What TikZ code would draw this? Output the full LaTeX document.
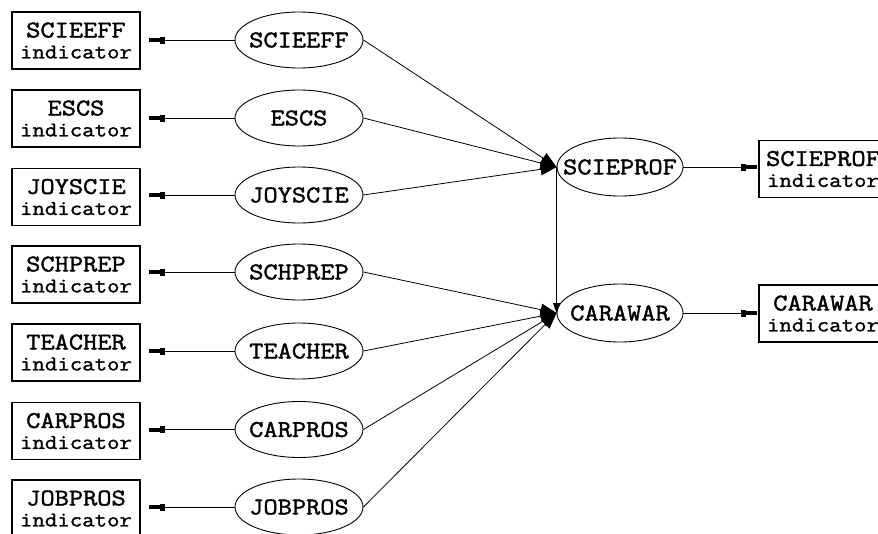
\documentclass[tikz,border=0pt]{standalone}
\usepackage{fontspec}
\newfontfamily\namefont{Latin Modern Mono}[FakeStretch=1.15,FakeBold=1.6]
\newfontfamily\indfont{Latin Modern Mono}[FakeStretch=1.15,FakeBold=1.3]
\usetikzlibrary{arrows.meta,shapes.geometric}
\newcommand\lbl[1]{\makebox[0pt]{#1}}
\newcommand\indtxt[1]{{\namefont\fontsize{24}{21}\selectfont #1}\\indicator}
\tikzset{
  indbox/.style={draw, line width=1.2pt, minimum width=128pt, minimum height=57pt,
    inner sep=0pt, align=center, font=\indfont\fontsize{21}{21}\selectfont},
  lat/.style={draw, ellipse, line width=0.9pt, minimum width=128pt, minimum height=56pt,
    inner sep=0pt, font=\namefont\fontsize{24}{24}\selectfont},
  latr/.style={lat, minimum width=126pt, minimum height=58pt},
  load/.style={line width=0.8pt,
    -{Rectangle[length=5pt,width=7pt,sep=0pt]Rectangle[length=11pt,width=4pt,sep=0pt]}},
  effect/.style={line width=0.8pt, -{Triangle[length=16pt,width=12pt]}},
  effectv/.style={line width=1.2pt, -{Triangle[length=10pt,width=7pt]}},
}
\begin{document}
\begin{tikzpicture}[x=1pt,y=-1pt]
\clip (0,0) rectangle (878,533);
\fill[white] (0,0) rectangle (878,533);
% left indicator boxes
\node[indbox] (b1) at (76,40.5)  {\indtxt{SCIEEFF}};
\node[indbox] (b2) at (76,118.5) {\indtxt{ESCS}};
\node[indbox] (b3) at (76,197)   {\indtxt{JOYSCIE}};
\node[indbox] (b4) at (76,274.5) {\indtxt{SCHPREP}};
\node[indbox] (b5) at (76,352.5) {\indtxt{TEACHER}};
\node[indbox] (b6) at (76,431)   {\indtxt{CARPROS}};
\node[indbox] (b7) at (76,508.5) {\indtxt{JOBPROS}};
% left latent ellipses
\node[lat] (e1) at (299,40)    {\lbl{SCIEEFF}};
\node[lat] (e2) at (299,118)   {\lbl{ESCS}};
\node[lat] (e3) at (299,195)   {\lbl{JOYSCIE}};
\node[lat] (e4) at (299,272)   {\lbl{SCHPREP}};
\node[lat] (e5) at (299,351)   {\lbl{TEACHER}};
\node[lat] (e6) at (299,429.5) {\lbl{CARPROS}};
\node[lat] (e7) at (299,507)   {\lbl{JOBPROS}};
% right ellipses and boxes
\node[latr] (sp) at (620,167) {\lbl{SCIEPROF}};
\node[latr] (cw) at (620,313) {\lbl{CARAWAR}};
\node[indbox] (sb) at (823,169)   {\indtxt{SCIEPROF}};
\node[indbox] (cb) at (823,313.5) {\indtxt{CARAWAR}};
% loadings
\foreach \i in {1,...,7}{
  \draw[load, shorten >=8pt] (e\i.west) -- (e\i.west -| b\i.east);
}
\draw[load, shorten >=1.5pt] (sp.east) -- (sp.east -| sb.west);
\draw[load, shorten >=1.5pt] (cw.east) -- (cw.east -| cb.west);
% structural paths
\foreach \i in {1,2,3}{
  \draw[effect] (e\i.east) -- (sp.west);
}
\foreach \i in {4,5,6,7}{
  \draw[effect] (e\i.east) -- (cw.west);
}
\draw[effectv] (sp.west) -- (cw.west);
\end{tikzpicture}
\end{document}
